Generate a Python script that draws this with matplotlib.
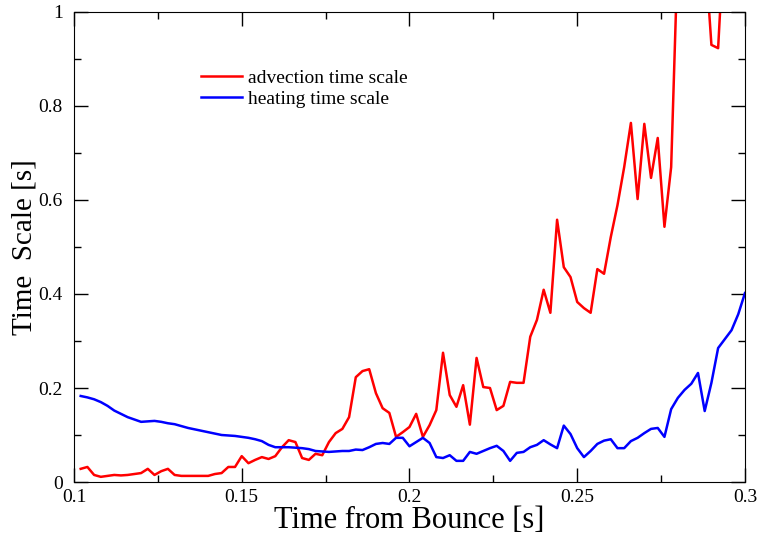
import numpy as np
import matplotlib.pyplot as plt
from matplotlib.ticker import MultipleLocator, FormatStrFormatter

# time from bounce [s], one sample every 2 ms
time = np.round(np.arange(0.102, 0.3001, 0.002), 3)

advection = [
    0.028, 0.032, 0.015, 0.011, 0.013, 0.015, 0.014, 0.015, 0.017, 0.019,
    0.028, 0.015, 0.023, 0.028, 0.015, 0.013, 0.013, 0.013, 0.013, 0.013,
    0.017, 0.019, 0.032, 0.032, 0.055, 0.040, 0.047, 0.053, 0.049, 0.055,
    0.074, 0.089, 0.085, 0.051, 0.047, 0.060, 0.057, 0.085, 0.104, 0.113,
    0.138, 0.223, 0.236, 0.240, 0.189, 0.157, 0.147, 0.096, 0.106, 0.117,
    0.145, 0.096, 0.121, 0.153, 0.275, 0.185, 0.160, 0.206, 0.122, 0.264,
    0.202, 0.200, 0.153, 0.162, 0.213, 0.211, 0.211, 0.309, 0.345, 0.409,
    0.360, 0.558, 0.457, 0.436, 0.383, 0.370, 0.360, 0.453, 0.443, 0.521,
    0.589, 0.670, 0.764, 0.602, 0.762, 0.647, 0.732, 0.543, 0.670, 1.135,
    1.30, 1.40, 1.35, 1.14, 0.930, 0.923, 1.19, 1.30, 1.25, 1.40,
]

heating = [
    0.183, 0.180, 0.176, 0.170, 0.162, 0.152, 0.145, 0.138, 0.133, 0.128,
    0.129, 0.130, 0.128, 0.125, 0.123, 0.119, 0.115, 0.112, 0.109, 0.106,
    0.103, 0.100, 0.099, 0.098, 0.096, 0.094, 0.091, 0.087, 0.079, 0.074,
    0.074, 0.074, 0.073, 0.072, 0.070, 0.066, 0.065, 0.064, 0.065, 0.066,
    0.066, 0.069, 0.068, 0.074, 0.081, 0.083, 0.081, 0.094, 0.094, 0.076,
    0.085, 0.094, 0.083, 0.053, 0.051, 0.057, 0.045, 0.045, 0.064, 0.060,
    0.066, 0.072, 0.077, 0.066, 0.045, 0.062, 0.064, 0.074, 0.079, 0.089,
    0.080, 0.072, 0.120, 0.102, 0.072, 0.053, 0.066, 0.081, 0.088, 0.091,
    0.072, 0.072, 0.087, 0.094, 0.104, 0.113, 0.115, 0.096, 0.155, 0.179,
    0.196, 0.209, 0.232, 0.151, 0.211, 0.285, 0.304, 0.323, 0.357, 0.402,
]

plt.rcParams['font.family'] = 'Liberation Serif'

fig = plt.figure(figsize=(7.58, 5.40), dpi=100)
ax = fig.add_axes([0.0976, 0.1074, 0.8852, 0.8704])

ax.plot(time, advection, color='#ff0000', lw=1.8, label='advection time scale')
ax.plot(time, heating, color='#0000ff', lw=1.8, label='heating time scale')

ax.set_xlim(0.1, 0.3)
ax.set_ylim(0, 1)
ax.xaxis.set_major_locator(MultipleLocator(0.05))
ax.xaxis.set_minor_locator(MultipleLocator(0.025))
ax.yaxis.set_major_locator(MultipleLocator(0.2))
ax.yaxis.set_minor_locator(MultipleLocator(0.1))
ax.xaxis.set_major_formatter(FormatStrFormatter('%g'))
ax.yaxis.set_major_formatter(FormatStrFormatter('%g'))
ax.tick_params(which='both', direction='in', top=True, right=True, labelsize=14)
ax.tick_params(which='major', length=10, width=1, pad=8)
ax.tick_params(axis='x', which='major', pad=5)
ax.tick_params(which='minor', length=5, width=1)

ax.set_xlabel('Time from Bounce [s]', fontsize=22, labelpad=0)
ax.set_ylabel('Time  Scale [s]', fontsize=21, labelpad=1)

ax.legend(loc='upper left', bbox_to_anchor=(0.253, 0.89), bbox_transform=fig.transFigure,
          frameon=False, fontsize=14, handlelength=2.1, handletextpad=0.3,
          labelspacing=0.2, borderpad=0)

plt.savefig('out.png', dpi=100)
